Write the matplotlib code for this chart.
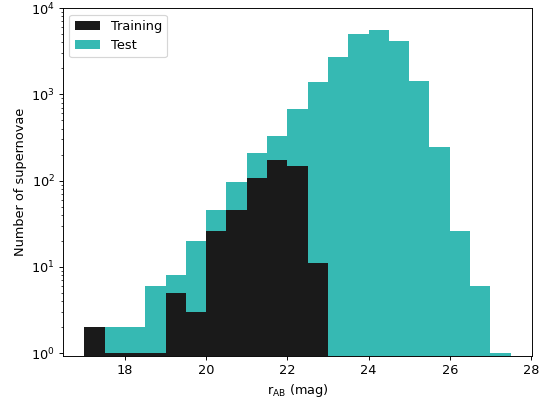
import numpy as np
import matplotlib
matplotlib.use("Agg")
import matplotlib.pyplot as plt

# Bin edges (mag), width 0.5 from 17 to 27.5
bin_edges = [17.0, 17.5, 18.0, 18.5, 19.0, 19.5, 20.0, 20.5, 21.0, 21.5, 22.0,
             22.5, 23.0, 23.5, 24.0, 24.5, 25.0, 25.5, 26.0, 26.5, 27.0, 27.5]
training_counts = [2, 1, 1, 1, 5, 3, 26, 46, 108, 171, 147,
                   11, 0, 0, 0, 0, 0, 0, 0, 0, 0]
test_counts = [0, 2, 2, 6, 8, 20, 46, 95, 207, 329, 673,
               1387, 2730, 5050, 5520, 4110, 1436, 245, 26, 6, 1]

train_color = "#1a1a1a"
test_color = "#36b9b3"

plt.rcParams["font.size"] = 11

dpi = 84.2
fig = plt.figure(figsize=(539 / dpi, 407 / dpi), dpi=dpi)
ax = fig.add_axes([0.117, 0.125, 0.870, 0.855])

edges = np.array(bin_edges)
centers = (edges[:-1] + edges[1:]) / 2

ax.hist(centers, bins=edges, weights=test_counts, color=test_color,
        label="Test", log=True, zorder=1)
ax.hist(centers, bins=edges, weights=training_counts, color=train_color,
        label="Training", log=True, zorder=2)

ax.set_yscale("log")
ax.set_ylim(0.92, 1e4)
ax.set_xlim(16.475, 28.025)
ax.set_xticks([18, 20, 22, 24, 26, 28])

ax.set_xlabel(r"r$_{\mathrm{AB}}$ (mag)")
ax.set_ylabel("Number of supernovae")

handles, labels = ax.get_legend_handles_labels()
ax.legend(handles[::-1], labels[::-1], loc="upper left")

fig.savefig("out.png", dpi=dpi)
